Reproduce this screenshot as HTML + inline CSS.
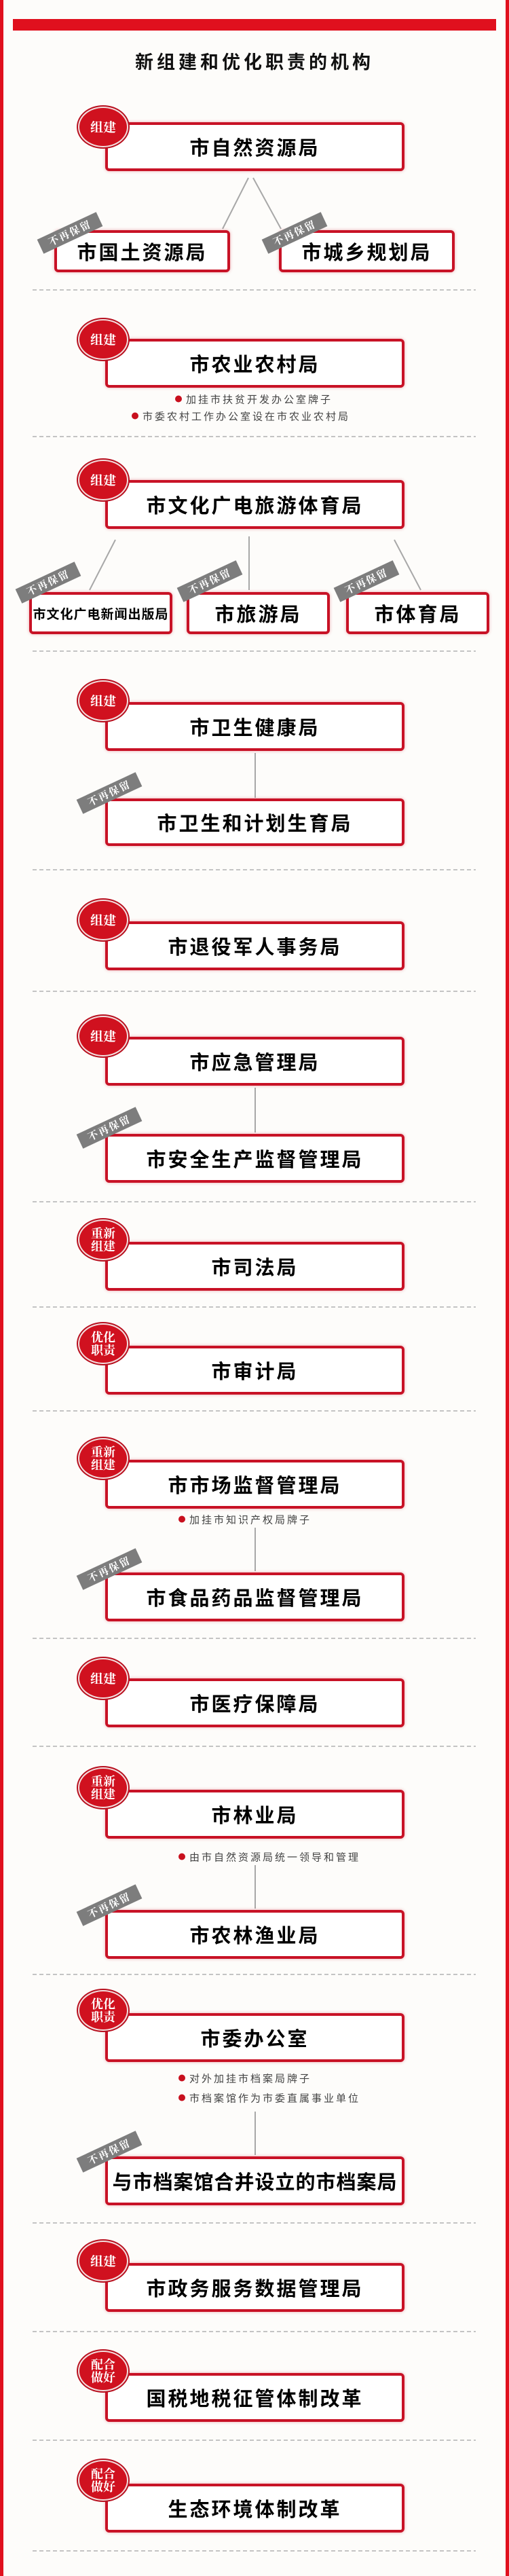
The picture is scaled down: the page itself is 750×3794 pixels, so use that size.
<!DOCTYPE html>
<html><head><meta charset="utf-8">
<style>
html,body{margin:0;padding:0;}
body{width:750px;height:3794px;position:relative;background:#fdfcfa;overflow:hidden;font-family:"Liberation Sans","Noto Sans CJK SC",sans-serif;}
.edge{position:absolute;top:0;width:5px;height:3794px;background:#e0101e;}
.bar{position:absolute;left:19px;top:28px;width:712px;height:17px;background:#e0101e;}
.title{position:absolute;left:0;width:750px;top:70px;text-align:center;font-weight:bold;font-size:27px;letter-spacing:5px;color:#111;}
.box{position:absolute;left:155px;width:441px;height:72px;border:4px solid #c81226;border-radius:6px;box-sizing:border-box;background:#fff;box-shadow:0 0 5px rgba(200,18,38,.35);display:flex;align-items:center;justify-content:center;font-weight:bold;font-size:29px;letter-spacing:3px;color:#000;white-space:nowrap;}
.sm{height:62px;font-size:29px;}
.bd{position:absolute;left:152px;width:70px;height:56px;border-radius:50%;background:#d0111f;border:2px solid #f3dede;box-shadow:0 0 0 2px #b8101f;color:#fff;font-family:"Noto Serif CJK SC","Liberation Serif",serif;font-weight:bold;font-size:19px;line-height:20px;display:flex;align-items:center;justify-content:center;text-align:center;transform:translate(-50%,-50%);z-index:3;}
.bd2{font-size:18px;line-height:19px;}
.tg{position:absolute;width:96px;height:23px;line-height:23px;background:#7d7d7d;color:#fff;font-weight:bold;font-size:15px;letter-spacing:2px;text-align:center;transform:translate(-50%,-50%) rotate(-25deg);z-index:4;font-family:"Noto Serif CJK SC",serif;}
.bl{position:absolute;font-size:15px;letter-spacing:3px;color:#444;white-space:nowrap;transform:translateY(-50%);}
.bl::before{content:"";display:inline-block;width:10px;height:10px;border-radius:50%;background:#c8101e;margin-right:6px;vertical-align:middle;position:relative;top:-2px;}
svg{position:absolute;left:0;top:0;}
</style></head><body>
<div class="edge" style="left:0"></div>
<div class="edge" style="left:745px"></div>
<div class="bar"></div>
<div class="title">新组建和优化职责的机构</div>

<svg width="750" height="3794">
<g stroke="#a8a8a8" stroke-width="2" fill="none">
<line x1="366" y1="262" x2="328" y2="337"/>
<line x1="373" y1="262" x2="414" y2="337"/>
<line x1="170" y1="795" x2="132" y2="869"/>
<line x1="367" y1="790" x2="367" y2="869"/>
<line x1="581" y1="795" x2="620" y2="869"/>
<line x1="376" y1="1109" x2="376" y2="1175"/>
<line x1="376" y1="1602" x2="376" y2="1668"/>
<line x1="376" y1="2250" x2="376" y2="2314"/>
<line x1="376" y1="2747" x2="376" y2="2811"/>
<line x1="376" y1="3110" x2="376" y2="3174"/>
</g>
<g stroke="#c4c4c4" stroke-width="2" stroke-dasharray="6,4">
<line x1="48" y1="427" x2="701" y2="427"/>
<line x1="48" y1="643" x2="701" y2="643"/>
<line x1="48" y1="959" x2="701" y2="959"/>
<line x1="48" y1="1281" x2="701" y2="1281"/>
<line x1="48" y1="1460" x2="701" y2="1460"/>
<line x1="48" y1="1770" x2="701" y2="1770"/>
<line x1="48" y1="1925" x2="701" y2="1925"/>
<line x1="48" y1="2078" x2="701" y2="2078"/>
<line x1="48" y1="2413" x2="701" y2="2413"/>
<line x1="48" y1="2572" x2="701" y2="2572"/>
<line x1="48" y1="2908" x2="701" y2="2908"/>
<line x1="48" y1="3274" x2="701" y2="3274"/>
<line x1="48" y1="3434" x2="701" y2="3434"/>
<line x1="48" y1="3594" x2="701" y2="3594"/>
<line x1="48" y1="3757" x2="701" y2="3757"/>
</g>
</svg>

<!-- 1 -->
<div class="box" style="top:180px">市自然资源局</div>
<div class="bd" style="top:187px">组建</div>
<div class="box sm" style="left:80px;width:259px;top:339px">市国土资源局</div>
<div class="tg" style="left:103px;top:343px">不再保留</div>
<div class="box sm" style="left:411px;width:259px;top:339px">市城乡规划局</div>
<div class="tg" style="left:434px;top:343px">不再保留</div>

<!-- 2 -->
<div class="box" style="top:499px">市农业农村局</div>
<div class="bd" style="top:500px">组建</div>
<div class="bl" style="left:258px;top:588px">加挂市扶贫开发办公室牌子</div>
<div class="bl" style="left:194px;top:613px">市委农村工作办公室设在市农业农村局</div>

<!-- 3 -->
<div class="box" style="top:707px">市文化广电旅游体育局</div>
<div class="bd" style="top:707px">组建</div>
<div class="box" style="left:43px;width:211px;top:872px;height:62px;font-size:19px;letter-spacing:1px">市文化广电新闻出版局</div>
<div class="tg" style="left:71px;top:858px">不再保留</div>
<div class="box" style="left:275px;width:211px;top:872px;height:62px">市旅游局</div>
<div class="tg" style="left:309px;top:856px">不再保留</div>
<div class="box" style="left:510px;width:211px;top:872px;height:62px">市体育局</div>
<div class="tg" style="left:540px;top:856px">不再保留</div>

<!-- 4 -->
<div class="box" style="top:1034px">市卫生健康局</div>
<div class="bd" style="top:1032px">组建</div>
<div class="box" style="top:1176px;height:70px">市卫生和计划生育局</div>
<div class="tg" style="left:161px;top:1168px">不再保留</div>

<!-- 5 -->
<div class="box" style="top:1357px">市退役军人事务局</div>
<div class="bd" style="top:1355px">组建</div>

<!-- 6 -->
<div class="box" style="top:1527px">市应急管理局</div>
<div class="bd" style="top:1526px">组建</div>
<div class="box" style="top:1670px">市安全生产监督管理局</div>
<div class="tg" style="left:161px;top:1661px">不再保留</div>

<!-- 7 -->
<div class="box" style="top:1829px">市司法局</div>
<div class="bd bd2" style="top:1826px">重新<br>组建</div>

<!-- 8 -->
<div class="box" style="top:1982px">市审计局</div>
<div class="bd bd2" style="top:1979px">优化<br>职责</div>

<!-- 9 -->
<div class="box" style="top:2150px">市市场监督管理局</div>
<div class="bd bd2" style="top:2148px">重新<br>组建</div>
<div class="bl" style="left:263px;top:2238px">加挂市知识产权局牌子</div>
<div class="box" style="top:2316px">市食品药品监督管理局</div>
<div class="tg" style="left:161px;top:2311px">不再保留</div>

<!-- 10 -->
<div class="box" style="top:2472px">市医疗保障局</div>
<div class="bd" style="top:2472px">组建</div>

<!-- 11 -->
<div class="box" style="top:2636px">市林业局</div>
<div class="bd bd2" style="top:2633px">重新<br>组建</div>
<div class="bl" style="left:263px;top:2735px">由市自然资源局统一领导和管理</div>
<div class="box" style="top:2813px">市农林渔业局</div>
<div class="tg" style="left:161px;top:2806px">不再保留</div>

<!-- 12 -->
<div class="box" style="top:2965px">市委办公室</div>
<div class="bd bd2" style="top:2961px">优化<br>职责</div>
<div class="bl" style="left:263px;top:3061px">对外加挂市档案局牌子</div>
<div class="bl" style="left:263px;top:3090px">市档案馆作为市委直属事业单位</div>
<div class="box" style="top:3176px;letter-spacing:1px">与市档案馆合并设立的市档案局</div>
<div class="tg" style="left:161px;top:3169px">不再保留</div>

<!-- 13 -->
<div class="box" style="top:3333px">市政务服务数据管理局</div>
<div class="bd" style="top:3330px">组建</div>

<!-- 14 -->
<div class="box" style="top:3495px">国税地税征管体制改革</div>
<div class="bd bd2" style="top:3492px">配合<br>做好</div>

<!-- 15 -->
<div class="box" style="top:3658px">生态环境体制改革</div>
<div class="bd bd2" style="top:3653px">配合<br>做好</div>
</body></html>
